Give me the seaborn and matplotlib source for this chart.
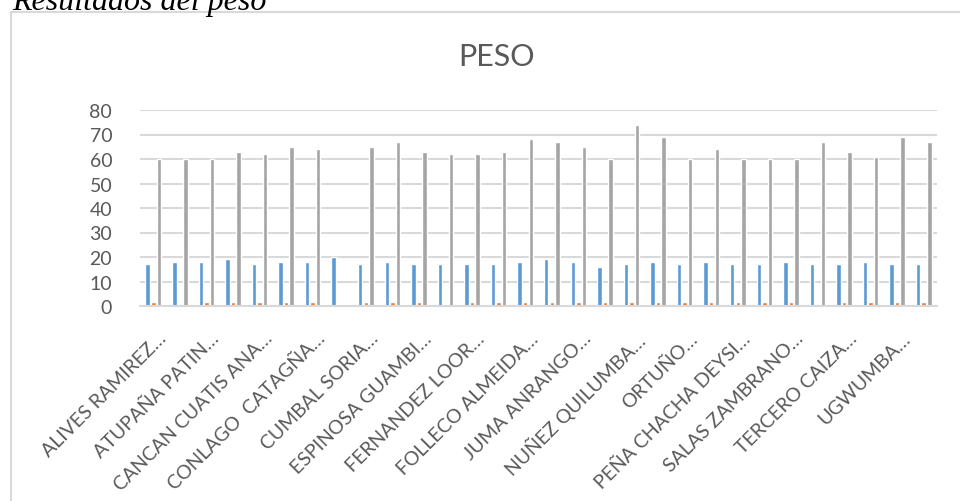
import numpy as np
import pandas as pd
import matplotlib
matplotlib.use("Agg")
import matplotlib.pyplot as plt
import seaborn as sns
from matplotlib.patches import Rectangle
from matplotlib.transforms import ScaledTranslation

# Thirty students; only every second name is printed on the axis
etiquetas = [
    "ALIVES RAMIREZ…", "ATUPAÑA PATIN…", "CANCAN CUATIS ANA…", "CONLAGO  CATAGÑA…",
    "CUMBAL SORIA…", "ESPINOSA GUAMBI…", "FERNANDEZ LOOR…", "FOLLECO ALMEIDA…",
    "JUMA ANRANGO…", "NUÑEZ QUILUMBA…", "ORTUÑO…", "PEÑA CHACHA DEYSI…",
    "SALAS ZAMBRANO…", "TERCERO CAIZA…", "UGWUMBA…",
]
estudiantes = list(range(1, 31))

edad = [17, 18, 18, 19, 17, 18, 18, 20, 17, 18,
        17, 17, 17, 17, 18, 19, 18, 16, 17, 18,
        17, 18, 17, 17, 18, 17, 17, 18, 17, 17]
talla = [1.5, np.nan, 1.5, 1.5, 1.5, 1.5, 1.5, np.nan, 1.5, 1.5,
         1.5, np.nan, 1.5, 1.5, 1.5, 1.5, 1.5, 1.5, 1.5, 1.6,
         1.5, 1.5, 1.5, 1.5, 1.5, np.nan, 1.5, 1.5, 1.8, 1.5]
peso = [60, 60, 60, 63, 62, 65, 64, np.nan, 65, 67,
        63, 62, 62, 63, 68, 67, 65, 60, 74, 69,
        60, 64, 60, 60, 60, 67, 63, 61, 69, 67]

series = ["EDAD", "TALLA", "PESO"]
colores = ["#5B9BD5", "#ED7D31", "#A5A5A5"]

df = pd.DataFrame({"estudiante": estudiantes, "EDAD": edad, "TALLA": talla, "PESO": peso})
largo = df.melt(id_vars="estudiante", value_vars=series, var_name="serie", value_name="valor")

sns.set_theme(style="white")
plt.rcParams["font.family"] = ["Lato", "DejaVu Sans"]

fig = plt.figure(figsize=(9.6, 5.02), dpi=100)
ax = fig.add_axes([140 / 960, 1 - 307 / 502, (937 - 140) / 960, (307 - 111) / 502])

sns.barplot(data=largo, x="estudiante", y="valor", hue="serie", hue_order=series,
            order=estudiantes, palette=colores, width=0.63, gap=0.2,
            ax=ax, legend=False, errorbar=None, saturation=1)

ax.set_xlim(-0.5, len(estudiantes) - 0.5)
ax.set_ylim(0, 80)
ax.set_yticks(range(0, 81, 10))
ax.yaxis.grid(True, color="#D9D9D9", linewidth=1.5)
ax.set_axisbelow(True)
for s in ["top", "right", "left"]:
    ax.spines[s].set_visible(False)
ax.spines["bottom"].set_color("#D9D9D9")
ax.spines["bottom"].set_linewidth(1.5)
ax.set_xlabel("")
ax.set_ylabel("")

ax.set_xticks(range(0, len(estudiantes), 2))
ax.set_xticklabels(etiquetas, rotation=45, ha="right", rotation_mode="anchor")
ax.tick_params(axis="both", length=0, labelsize=14, colors="#595959")
ax.tick_params(axis="x", pad=8)
ax.tick_params(axis="y", pad=20)

# Nudge the slanted names so their ends sit just right of and below each tick
desplazamiento = ScaledTranslation(4 / 100, -12 / 100, fig.dpi_scale_trans)
for lbl in ax.get_xticklabels():
    lbl.set_transform(lbl.get_transform() + desplazamiento)

fig.text(496 / 960, 1 - 57 / 502, "PESO", ha="center", va="center",
         fontsize=22, color="#595959")

# Chart frame
fig.patches.append(Rectangle((11 / 960, -0.1), 1.1, 1 - 13 / 502 + 0.1,
                             transform=fig.transFigure, fill=False,
                             edgecolor="#D9D9D9", linewidth=1.5))

fig.text(12 / 960, 1 - 10 / 502, "Resultados del peso", ha="left", va="baseline",
         fontsize=23, fontstyle="italic", family="Liberation Serif", color="black")

fig.savefig("out.png", dpi=100, facecolor="white")
